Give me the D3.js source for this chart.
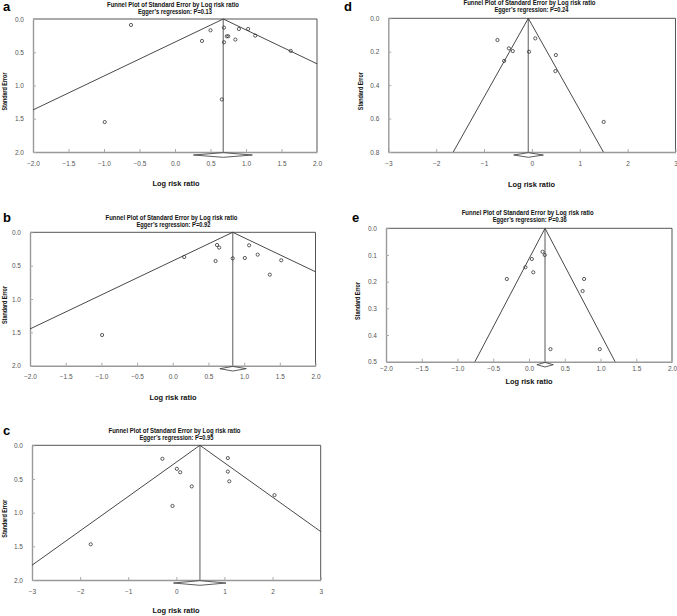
<!DOCTYPE html>
<html>
<head>
<meta charset="utf-8">
<script src="https://cdn.jsdelivr.net/npm/d3@7"></script>
<style>
  html, body { margin: 0; padding: 0; background: #fff; }
  svg { display: block; }
</style>
</head>
<body>
<svg id="chart" width="677" height="616"></svg>
<script>
// ---------------- DATA ----------------
const panelLetters = ["a", "b", "c", "d", "e"];
const eggerP = ["0.13", "0.92", "0.95", "0.24", "0.36"];

// log risk ratio / standard error for each study
const aLogRR = [-0.99, -0.62, 0.38, 0.50, 0.66, 0.69, 0.69, 0.73, 0.75, 0.85, 0.90, 1.03, 1.13, 1.63];
const aSE    = [ 1.55,  0.09, 0.33, 0.17, 1.21, 0.13, 0.35, 0.26, 0.26, 0.31, 0.15, 0.15, 0.25, 0.48];

const bLogRR = [-0.99, 0.16, 0.60, 0.62, 0.65, 0.84, 1.01, 1.07, 1.19, 1.36, 1.52];
const bSE    = [ 1.54, 0.37, 0.43, 0.19, 0.23, 0.39, 0.385, 0.195, 0.335, 0.635, 0.42];

const cLogRR = [-1.78, -0.29, -0.08, 0.01, 0.08, 0.32, 1.07, 1.07, 1.10, 2.04];
const cSE    = [ 1.47,  0.20,  0.90, 0.35, 0.40, 0.61, 0.19, 0.39, 0.535, 0.74];

const dLogRR = [-0.72, -0.48, -0.40, -0.58, -0.06, 0.07, 0.50, 0.49, 1.50];
const dSE    = [ 0.13,  0.18,  0.196, 0.255, 0.20, 0.12, 0.22, 0.316, 0.62];

const eLogRR = [0.19, 0.22, 0.04, -0.05, 0.06, -0.31, 0.77, 0.75, 0.30, 0.99];
const eSE    = [0.088, 0.10, 0.115, 0.146, 0.165, 0.19, 0.19, 0.235, 0.453, 0.453];

// pooled estimate and its confidence interval (diamond)
const summaryEst = [0.68, 0.84, 0.49, -0.075, 0.224];
const summaryLo  = [0.26, 0.66, -0.06, -0.38, 0.11];
const summaryHi  = [1.09, 1.03, 1.03, 0.24, 0.34];

// axis tick values
const xTicksA = [-2.0, -1.5, -1.0, -0.5, 0.0, 0.5, 1.0, 1.5, 2.0];
const xTicksC = [-3, -2, -1, 0, 1, 2, 3];
const yTicksA = [0.0, 0.5, 1.0, 1.5, 2.0];
const yTicksD = [0.0, 0.2, 0.4, 0.6, 0.8];
const yTicksE = [0.0, 0.1, 0.2, 0.3, 0.4, 0.5];

const titleText = "Funnel Plot of Standard Error by Log risk ratio";
const xLabel = "Log risk ratio";
const yLabel = "Standard Error";
const zCrit = 1.96;

// ---------------- LAYOUT ----------------
const panels = [
  { x: aLogRR, se: aSE, xd: [-2, 2], yd: [0, 2],   xt: xTicksA, yt: yTicksA, xf: ".1f", yf: ".1f", pad: 9,
    box: [33, 317, 19, 152],     title1: 4.7,  tcx: 173,  letter: [3, 10.7],  xlab: [176, 184] },
  { x: bLogRR, se: bSE, xd: [-2, 2], yd: [0, 2],   xt: xTicksA, yt: yTicksA, xf: ".1f", yf: ".1f", pad: 9,
    box: [30, 315.5, 232.3, 365.7], title1: 218, tcx: 171.5, letter: [3, 222], xlab: [173, 398] },
  { x: cLogRR, se: cSE, xd: [-3, 3], yd: [0, 2],   xt: xTicksC, yt: yTicksA, xf: "d",   yf: ".1f", pad: 9,
    box: [32, 320.7, 445.3, 580], title1: 431,  tcx: 174.5, letter: [3, 435],  xlab: [176, 611] },
  { x: dLogRR, se: dSE, xd: [-3, 3], yd: [0, 0.8], xt: xTicksC, yt: yTicksD, xf: "d",   yf: ".1f", pad: 9,
    box: [388.3, 675.5, 18.3, 152], title1: 3, tcx: 529.5, letter: [344, 11], xlab: [531.5, 185] },
  { x: eLogRR, se: eSE, xd: [-2, 2], yd: [0, 0.5], xt: xTicksA, yt: yTicksE, xf: ".1f", yf: ".1f", pad: 5,
    box: [386, 672, 228.3, 361.7], title1: 213.3, tcx: 527.7, letter: [352, 222], xlab: [529, 382] }
];

const svg = d3.select("#chart");
svg.append("rect").attr("width", 677).attr("height", 616).attr("fill", "#fff");

const titleFont = "'Liberation Sans Narrow', 'Liberation Sans', Arial, sans-serif";
const tickFont = "'Liberation Sans', Arial, sans-serif";

panels.forEach((p, i) => {
  const [L, R, T, B] = p.box;
  const xs = d3.scaleLinear().domain(p.xd).range([L, R]);
  const ys = d3.scaleLinear().domain(p.yd).range([T, B]);
  const g = svg.append("g");

  // panel letter
  g.append("text").attr("x", p.letter[0]).attr("y", p.letter[1])
    .attr("font-family", "'Liberation Sans', Arial, sans-serif")
    .attr("font-weight", "bold").attr("font-size", 13).attr("fill", "#000")
    .text(panelLetters[i]);

  // titles
  g.append("text").attr("x", p.tcx).attr("y", p.title1)
    .attr("text-anchor", "middle").attr("dominant-baseline", "middle")
    .attr("font-family", titleFont).attr("font-weight", "bold").attr("font-size", 7)
    .attr("textLength", 132).attr("lengthAdjust", "spacingAndGlyphs")
    .attr("fill", "#111").text(titleText);
  g.append("text").attr("x", p.tcx + 2).attr("y", p.title1 + 7.3)
    .attr("text-anchor", "middle").attr("dominant-baseline", "middle")
    .attr("font-family", titleFont).attr("font-weight", "bold").attr("font-size", 7)
    .attr("textLength", 74).attr("lengthAdjust", "spacingAndGlyphs")
    .attr("fill", "#111").text("Egger\u2019s regression: P=" + eggerP[i]);

  // box: top & right darker, left & bottom gray axes
  g.append("line").attr("x1", L).attr("x2", R).attr("y1", T).attr("y2", T)
    .attr("stroke", "#555").attr("stroke-width", 1);
  g.append("line").attr("x1", R).attr("x2", R).attr("y1", T).attr("y2", B)
    .attr("stroke", "#555").attr("stroke-width", 1);

  // x axis
  const xAxis = d3.axisBottom(xs).tickValues(p.xt).tickSizeInner(-3).tickSizeOuter(0)
    .tickPadding(p.pad).tickFormat(d3.format(p.xf));
  const gx = g.append("g").attr("transform", `translate(0,${B})`).call(xAxis);
  gx.select(".domain").attr("stroke", "#999").attr("stroke-width", 1.4);
  gx.selectAll(".tick line").attr("stroke", "#aaa");
  gx.selectAll(".tick text").attr("font-family", tickFont).attr("font-size", 6.5).attr("fill", "#555");

  // y axis
  const yAxis = d3.axisLeft(ys).tickValues(p.yt).tickSizeInner(-3).tickSizeOuter(0)
    .tickPadding(9).tickFormat(d3.format(p.yf));
  const gy = g.append("g").attr("transform", `translate(${L},0)`).call(yAxis);
  gy.select(".domain").attr("stroke", "#999").attr("stroke-width", 1.4);
  gy.selectAll(".tick line").attr("stroke", "#aaa");
  gy.selectAll(".tick text").attr("font-family", tickFont).attr("font-size", 6.5).attr("fill", "#555");

  // axis titles
  g.append("text").attr("x", p.xlab[0]).attr("y", p.xlab[1])
    .attr("text-anchor", "middle").attr("dominant-baseline", "middle")
    .attr("font-family", titleFont).attr("font-weight", "bold").attr("font-size", 7)
    .attr("textLength", 47).attr("lengthAdjust", "spacingAndGlyphs")
    .attr("fill", "#111").text(xLabel);
  const ylx = (i < 3) ? 5 : (L - 27.5);
  const yly = (T + B) / 2 + 6;
  g.append("text").attr("transform", `translate(${ylx},${yly}) rotate(-90)`)
    .attr("text-anchor", "middle").attr("dominant-baseline", "middle")
    .attr("font-family", titleFont).attr("font-weight", "bold").attr("font-size", 7)
    .attr("textLength", 38).attr("lengthAdjust", "spacingAndGlyphs")
    .attr("fill", "#111").text(yLabel);

  // summary vertical line
  const s = summaryEst[i];
  g.append("line").attr("x1", xs(s)).attr("x2", xs(s)).attr("y1", ys(0)).attr("y2", ys(p.yd[1]))
    .attr("stroke", "#888").attr("stroke-width", 1.4);

  // funnel (pseudo 95% limits), clipped to the plot box
  const seMax = p.yd[1];
  const leftSE = (s - p.xd[0]) / zCrit;
  const rightSE = (p.xd[1] - s) / zCrit;
  const leftEnd = leftSE > seMax ? [s - zCrit * seMax, seMax] : [p.xd[0], leftSE];
  const rightEnd = rightSE > seMax ? [s + zCrit * seMax, seMax] : [p.xd[1], rightSE];
  const funnel = [leftEnd, [s, 0], rightEnd];
  g.append("path").datum(funnel)
    .attr("d", d3.line().x(d => xs(d[0])).y(d => ys(d[1])))
    .attr("fill", "none").attr("stroke", "#333").attr("stroke-width", 0.9);

  // diamond
  const cy = B + 3;
  const diamond = [[summaryLo[i], 0], [s, -2.3], [summaryHi[i], 0], [s, 2.3]];
  g.append("path").datum(diamond)
    .attr("d", d3.line().x(d => xs(d[0])).y(d => cy + d[1]).curve(d3.curveLinearClosed))
    .attr("fill", "#fff").attr("stroke", "#333").attr("stroke-width", 0.8);

  // studies
  g.selectAll("circle.pt").data(d3.zip(p.x, p.se)).enter().append("circle")
    .attr("class", "pt")
    .attr("cx", d => xs(d[0])).attr("cy", d => ys(d[1])).attr("r", 1.6)
    .attr("fill", "none").attr("stroke", "#333").attr("stroke-width", 0.8);
});
</script>
</body>
</html>
